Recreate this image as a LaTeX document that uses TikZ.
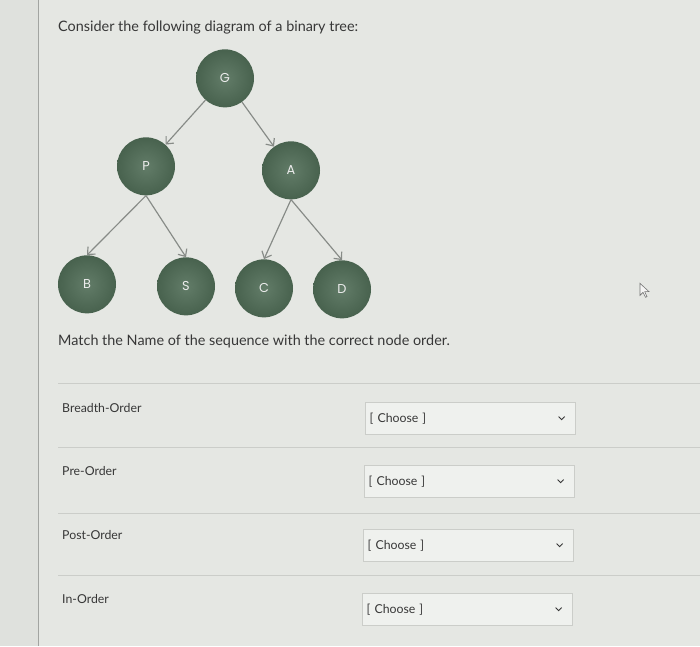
\documentclass[tikz,border=0pt]{standalone}
\usepackage{fontspec}
\setmainfont{Lato}
\newfontfamily\treefont{Poppins}
\usepackage{tikz}
\usetikzlibrary{arrows.meta}
\definecolor{pagebg}{RGB}{229,231,227}
\definecolor{stripbg}{RGB}{223,225,221}
\definecolor{rulegray}{RGB}{203,205,201}
\definecolor{vertfill}{RGB}{72,98,78}
\definecolor{vertlight}{RGB}{98,124,104}
\definecolor{edgegray}{RGB}{135,139,135}
\definecolor{textgray}{RGB}{55,55,55}

\begin{document}
\begin{tikzpicture}[
  x=0.03cm, y=-0.03cm,
  font=\fontsize{12.3}{15}\selectfont, text=textgray,
  vert/.style={circle, minimum size=1.74cm, inner sep=0pt,
  inner color=vertlight, outer color=vertfill, text=white!85!gray,
  font=\treefont\fontsize{11}{12}\selectfont},
  arrow/.style={-{Straight Barb[length=5pt,width=9pt]}, draw=edgegray, line width=1pt},
  lbl/.style={anchor=base west, inner sep=0pt, font=\fontsize{10.5}{12}\selectfont},
  pick/.style={draw=rulegray, fill=white!40!pagebg, line width=0.8pt,
  minimum width=6.3cm, minimum height=0.98cm, inner xsep=4pt,
  text width=6.3cm-8pt, align=left, font=\fontsize{10.5}{12}\selectfont,
  path picture={\draw[textgray, line width=0.75pt]
  ([xshift=-14pt,yshift=1.5pt]path picture bounding box.east) -- ++(2.6pt,-2.6pt) -- ++(2.6pt,2.6pt);}},
  divider/.style={draw=rulegray, line width=0.8pt}]
% page
\fill[stripbg] (0,0) rectangle (38,646);
\fill[pagebg] (38,0) rectangle (700,646);
\draw[rulegray!80!black, line width=0.6pt] (38,0) -- (38,646);
\useasboundingbox (0,0) rectangle (700,646);

\node[anchor=base west, inner sep=0pt] (title) at (58,31) {Consider the following diagram of a binary tree:};

% tree
\node[vert] (G) at (225,78) {G};
\node[vert] (P) at (146,166) {P};
\node[vert] (A) at (291,170) {A};
\node[vert] (B) at (87,284) {B};
\node[vert] (S) at (186,286) {S};
\node[vert] (C) at (264,288) {C};
\node[vert] (D) at (342,289) {D};
\draw[arrow] (G) -- (P);
\draw[arrow] (G) -- (A);
\draw[arrow] (P.south) -- (B.north);
\draw[arrow] (P.south) -- (S.north);
\draw[arrow] (A.south) -- (C.north);
\draw[arrow] (A.south) -- (D.north);

% pointer
\draw[textgray!70, line width=0.5pt, fill=white!60!pagebg]
  (640,283) -- (640,295) -- (643,292) -- (645.5,297) -- (647,296.3) -- (644.7,291.3) -- (649,291.3) -- cycle;

\node[anchor=base west, inner sep=0pt] (match) at (58,345) {Match the Name of the sequence with the correct node order.};

% rows
\foreach \y in {383,447,513,575}
  \draw[divider] (58,\y) -- (700,\y);
\node[lbl] (breadth) at (62,412) {Breadth-Order};
\node[lbl] (pre) at (62,475) {Pre-Order};
\node[lbl] (post) at (62,539) {Post-Order};
\node[lbl] (in) at (62,603) {In-Order};
\node[pick] (pbreadth) at (470,418) {[ Choose ]};
\node[pick] (ppre) at (469,481) {[ Choose ]};
\node[pick] (ppost) at (468,545) {[ Choose ]};
\node[pick] (pin) at (467,609) {[ Choose ]};
\end{tikzpicture}
\end{document}
